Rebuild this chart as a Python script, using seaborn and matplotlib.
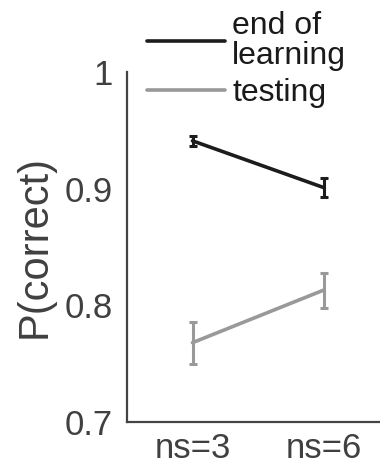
import numpy as np
import pandas as pd
import matplotlib
matplotlib.use('Agg')
import matplotlib.pyplot as plt
import seaborn as sns

# values
conditions = ['ns=3', 'ns=6']
end_of_learning = [0.941, 0.901]
end_of_learning_err = [0.004, 0.008]
testing = [0.768, 0.813]
testing_err = [0.018, 0.015]
y_ticks = [0.7, 0.8, 0.9, 1.0]
y_tick_labels = ['0.7', '0.8', '0.9', '1']

sns.set_style('white')
plt.rcParams['font.family'] = ['Liberation Sans', 'DejaVu Sans']

df = pd.DataFrame({
    'x': [1, 2, 1, 2],
    'p': end_of_learning + testing,
    'err': end_of_learning_err + testing_err,
    'group': ['end of\nlearning'] * 2 + ['testing'] * 2,
})
palette = {'end of\nlearning': '#1c1c1c', 'testing': '#999999'}

fig = plt.figure(figsize=(3.8, 4.65), dpi=100)
ax = fig.add_axes([127 / 380, 43 / 465, 262 / 380, 350 / 465])

sns.lineplot(data=df, x='x', y='p', hue='group', palette=palette, lw=2.6, ax=ax)
for g, sub in df.groupby('group'):
    ax.errorbar(sub['x'], sub['p'], yerr=sub['err'], fmt='none', ecolor=palette[g],
                elinewidth=2.2, capsize=3, capthick=2.2)

ax.set_xlim(0.5, 2.5)
ax.set_ylim(0.7, 1.0)
ax.set_xticks([1, 2])
ax.set_xticklabels(conditions)
ax.set_yticks(y_ticks)
ax.set_yticklabels(y_tick_labels)
ax.set_xlabel('')
ax.set_ylabel('P(correct)', fontsize=30, color='#404040')
ax.yaxis.set_label_coords(-0.275, 0.5)

for side in ['top', 'right']:
    ax.spines[side].set_visible(False)
for side in ['left', 'bottom']:
    ax.spines[side].set_color('#444444')
    ax.spines[side].set_linewidth(1.6)
ax.tick_params(direction='in', length=4, width=1.6, color='#444444',
               labelsize=25, labelcolor='#404040', pad=10)
ax.tick_params(axis='x', pad=7)

handles, labels = ax.get_legend_handles_labels()
leg = ax.legend(handles, labels, loc='upper left', bbox_to_anchor=(147 / 380, 1 - 11 / 465),
                bbox_transform=fig.transFigure, frameon=False, fontsize=23,
                handlelength=2.45, handletextpad=0.22, borderpad=0, borderaxespad=0,
                labelspacing=0.22)
for t in leg.get_texts():
    t.set_color('#1a1a1a')
    t.set_linespacing(1.0)

fig.savefig('out.png', dpi=100)
